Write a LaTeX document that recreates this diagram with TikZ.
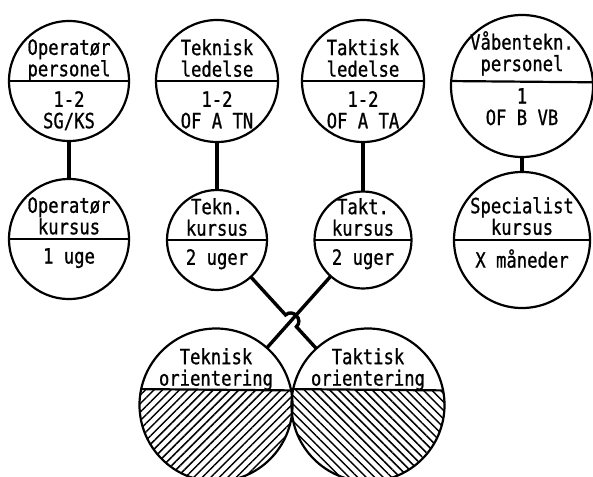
\documentclass[tikz,border=0pt]{standalone}
\usepackage{fontspec}
\newfontfamily\diafont[FakeStretch=0.82, FakeBold=0.9]{DejaVu Sans Mono}
\usetikzlibrary{calc,patterns.meta}

\begin{document}
\begin{tikzpicture}[
	x=1pt, y=1pt,
	ring style/.style={
		circle,
		draw,
		line width=2.2pt,
		outer sep=0pt,
		inner sep=0pt
	},
	split style/.style={line width=2.2pt},
	link style/.style={line width=3.4pt},
	text style/.style={
		align=center,
		inner sep=0pt,
		anchor=north,
		font=\diafont\fontsize{21}{21.5}\selectfont
	},
	hatch left/.style={pattern={Lines[angle=45, distance=6pt, line width=1.5pt]}},
	hatch right/.style={pattern={Lines[angle=-45, distance=6pt, line width=1.5pt]}}
	]
	\useasboundingbox (0,0) rectangle (593,-476);
	
	% personnel
	\node[ring style, minimum size=120pt] (oppers) at (69,-81) {};
	\node[ring style, minimum size=122pt] (tekled) at (217,-81) {};
	\node[ring style, minimum size=122pt] (takled) at (363,-81) {};
	\node[ring style, minimum size=142pt] (vaaben) at (522,-86) {};
	
	\draw[split style] (oppers.west) -- (oppers.east);
	\draw[split style] (tekled.west) -- (tekled.east);
	\draw[split style] (takled.west) -- (takled.east);
	\draw[split style] (vaaben.176.8) -- (vaaben.3.2);
	
	\node[text style] (oppers-t) at ([yshift=42pt]oppers.center) {Operatør\\personel};
	\node[text style] (oppers-b) at ([yshift=-10pt]oppers.center) {1-2\\SG/KS};
	\node[text style] (tekled-t) at ([yshift=42pt]tekled.center) {Teknisk\\ledelse};
	\node[text style] (tekled-b) at ([yshift=-10pt]tekled.center) {1-2\\OF A TN};
	\node[text style] (takled-t) at ([yshift=42pt]takled.center) {Taktisk\\ledelse};
	\node[text style] (takled-b) at ([yshift=-10pt]takled.center) {1-2\\OF A TA};
	\node[text style] (vaaben-t) at ([yshift=55pt]vaaben.center) {Våbentekn.\\personel};
	\node[text style] (vaaben-b) at ([yshift=-2pt]vaaben.center) {1\\OF B VB};
	
	% courses
	\node[ring style, minimum size=120pt] (opkurs) at (69,-239) {};
	\node[ring style, minimum size=100pt] (tekkurs) at (217,-240) {};
	\node[ring style, minimum size=97pt] (takkurs) at (363,-240) {};
	\node[ring style, minimum size=136pt] (speckurs) at (522,-240) {};
	
	\draw[split style] (opkurs.west) -- (opkurs.east);
	\draw[split style] (tekkurs.west) -- (tekkurs.east);
	\draw[split style] (takkurs.west) -- (takkurs.east);
	\draw[split style] (speckurs.west) -- (speckurs.east);
	
	\node[text style] (opkurs-t) at ([yshift=42pt]opkurs.center) {Operatør\\kursus};
	\node[text style] (opkurs-b) at ([yshift=-9pt]opkurs.center) {1 uge};
	\node[text style] (tekkurs-t) at ([yshift=42pt]tekkurs.center) {Tekn.\\kursus};
	\node[text style] (tekkurs-b) at ([yshift=-9pt]tekkurs.center) {2 uger};
	\node[text style] (takkurs-t) at ([yshift=42pt]takkurs.center) {Takt.\\kursus};
	\node[text style] (takkurs-b) at ([yshift=-9pt]takkurs.center) {2 uger};
	\node[text style] (speckurs-t) at ([yshift=43pt]speckurs.center) {Specialist\\kursus};
	\node[text style] (speckurs-b) at ([yshift=-9pt]speckurs.center) {X måneder};
	
	% orientation
	\path[hatch left] ([shift={(168.7:76.5)}]0,0) ++(216,-405) arc[start angle=168.7, end angle=371.3, radius=76.5pt] -- cycle;
	\path[hatch right] ([shift={(168.7:76.5)}]0,0) ++(368,-405) arc[start angle=168.7, end angle=371.3, radius=76.5pt] -- cycle;
	\node[ring style, minimum size=153pt] (tekor) at (216,-405) {};
	\node[ring style, minimum size=153pt] (takor) at (368,-405) {};
	
	\draw[split style] (tekor.168.7) -- (tekor.11.3);
	\draw[split style] (takor.168.7) -- (takor.11.3);
	
	\node[text style] (tekor-t) at ([yshift=57pt]tekor.center) {Teknisk\\orientering};
	\node[text style] (takor-t) at ([yshift=57pt]takor.center) {Taktisk\\orientering};
	
	% links
	\draw[link style] (oppers) -- (opkurs);
	\draw[link style] (tekled) -- (tekkurs);
	\draw[link style] (takled) -- (takkurs);
	\draw[link style] (vaaben) -- (speckurs);
	
	\coordinate (hop) at (intersection of tekkurs--takor and takkurs--tekor);
	\draw[link style] (takkurs) -- (tekor);
	\draw[link style] (tekkurs) -- ($(hop)!8pt!(tekkurs)$) to[bend left=90, looseness=1.6] ($(hop)!8pt!(takor)$) -- (takor);
	
\end{tikzpicture}
\end{document}
